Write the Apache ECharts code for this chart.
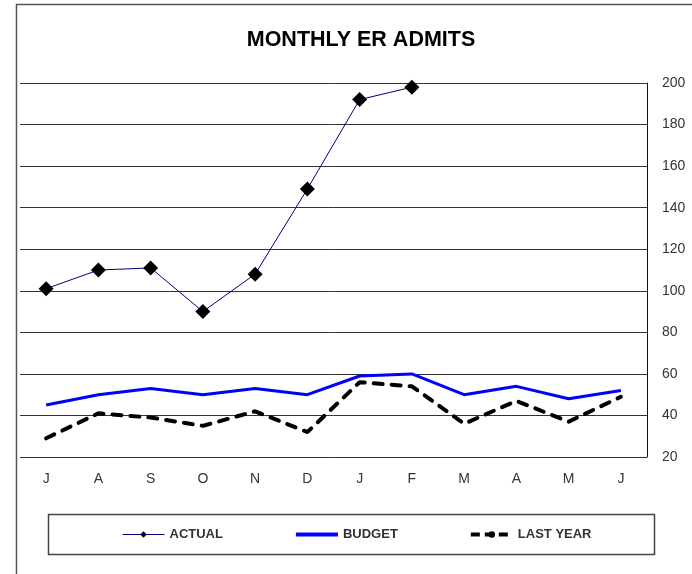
<!DOCTYPE html>
<html>
<head>
<meta charset="utf-8">
<script src="https://cdn.jsdelivr.net/npm/echarts@6/dist/echarts.min.js"></script>
<style>
  html, body { margin: 0; padding: 0; background: #fff; }
  #chart { width: 692px; height: 574px; }
</style>
</head>
<body>
<div id="chart"></div>
<script>
// months, July to June
const months = ['J', 'A', 'S', 'O', 'N', 'D', 'J', 'F', 'M', 'A', 'M', 'J']
const actual = [101, 110, 111, 90, 108, 149, 192, 198, null, null, null, null]
const budget = [45, 50, 53, 50, 53, 50, 59, 60, 50, 54, 48, 52]
const lastYear = [29, 41, 39, 35, 42, 32, 56, 54, 36, 47, 37, 49]

const font = '"Liberation Sans", Arial, sans-serif'
const chart = echarts.init(document.getElementById('chart'))

const option = {
  animation: false,
  title: {
    text: 'MONTHLY ER ADMITS',
    left: 356,
    top: 24,
    textAlign: 'center',
    textStyle: { fontFamily: font, fontSize: 21.5, fontWeight: 'bold', color: '#000' }
  },
  // outer frame and legend box
  graphic: [
    {
      type: 'rect',
      shape: { x: 16.5, y: 4.5, width: 720, height: 620 },
      style: { fill: 'none', stroke: '#555', lineWidth: 1.5 },
      silent: true
    },
    {
      type: 'rect',
      shape: { x: 48.5, y: 514.5, width: 606, height: 40 },
      style: { fill: 'none', stroke: '#444', lineWidth: 1.5 },
      silent: true
    }
  ],
  legend: {
    left: 122,
    top: 528,
    padding: 0,
    itemWidth: 42,
    itemHeight: 8,
    itemGap: 71,
    textStyle: { fontFamily: font, fontSize: 13, fontWeight: 'bold', color: '#333' },
    data: [
      { name: 'ACTUAL', lineStyle: { width: 1 } },
      { name: 'BUDGET', itemStyle: { opacity: 0 }, lineStyle: { width: 4 } },
      { name: 'LAST YEAR', lineStyle: { width: 4, type: [9, 5], cap: 'butt' } }
    ]
  },
  grid: { left: 20, right: 45, top: 83, bottom: 117 },
  xAxis: {
    type: 'category',
    data: months,
    boundaryGap: true,
    axisLine: { show: false },
    axisTick: { show: false },
    axisLabel: { fontFamily: font, fontSize: 14, color: '#333', margin: 15 }
  },
  yAxis: {
    type: 'value',
    position: 'right',
    min: 20,
    max: 200,
    interval: 20,
    axisLine: { show: true, lineStyle: { color: '#111', width: 1 } },
    axisTick: { show: false },
    axisLabel: { fontFamily: font, fontSize: 14, color: '#333', margin: 15 },
    splitLine: { lineStyle: { color: '#333', width: 1 } }
  },
  series: [
    {
      name: 'ACTUAL',
      type: 'line',
      data: actual,
      symbol: 'diamond',
      symbolSize: 15,
      showAllSymbol: true,
      lineStyle: { color: '#000080', width: 1 },
      itemStyle: { color: '#000' },
      z: 5
    },
    {
      name: 'BUDGET',
      type: 'line',
      data: budget,
      symbol: 'none',
      lineStyle: { color: '#0000ff', width: 3 },
      itemStyle: { color: '#0000ff' }
    },
    {
      name: 'LAST YEAR',
      type: 'line',
      data: lastYear,
      symbol: 'none',
      lineStyle: { color: '#000', width: 4, type: [9, 9], cap: 'round' },
      itemStyle: { color: '#000' }
    }
  ]
}

chart.setOption(option)
</script>
</body>
</html>
